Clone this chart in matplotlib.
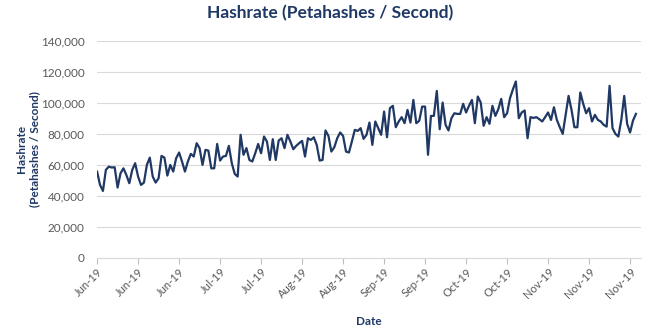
import numpy as np
import pandas as pd
import matplotlib
matplotlib.use("Agg")
import matplotlib.pyplot as plt
import matplotlib.dates as mdates
from matplotlib.ticker import FuncFormatter

plt.rcParams["font.family"] = ["Lato", "DejaVu Sans"]

NAVY = "#1f3864"
TEXT = "#595959"
GRID = "#d9d9d9"

# daily network hashrate, PH/s
start_date = "2019-06-01"
hashrate = [
    55700, 47100, 43200, 56800, 58900, 58300, 58500, 45400, 54600, 57800,
    53500, 48200, 56800, 61100, 52500, 47100, 48600, 60000, 64700, 52500,
    48600, 51400, 65800, 64700, 53100, 60000, 55700, 64300, 68000, 62200,
    55700, 62200, 67100, 65400, 74000, 70800, 60000, 69700, 69200, 57800,
    57800, 73500, 62800, 65400, 65800, 72300, 61100, 54200, 52500, 79400,
    66500, 70800, 63200, 62200, 67500, 73500, 67500, 78300, 75100, 63200,
    76600, 63200, 75700, 77200,
    70800, 79400, 75100, 70100, 72300, 74000, 75500, 65400, 77200, 76100,
    77800, 72900, 62800, 63200, 82200, 78700, 68600, 71400, 77200, 80900,
    78700, 68600, 68000, 75100, 82600, 81900, 83700, 76800, 79400, 87300,
    72900, 88000, 83700, 79400, 94400, 77800, 96600, 98100, 84300, 88000,
    90800, 86900, 95500, 87300, 101900, 86900, 88400, 97600, 97600, 66500,
    91600, 91600, 107700, 83000, 100200, 85800, 82200, 90100,
    93300, 92900, 92900, 99400, 93800, 98100, 101900, 86900, 104100, 100200,
    85200, 90800, 86500, 98100, 91600, 95900, 102600, 90800, 93300, 103000,
    108800, 113800, 90100, 93800, 95100, 77200, 90800, 90300, 90800, 89500,
    88000, 90800, 93800, 89000, 97200, 89000, 84300, 80000, 92300, 104500,
    95500, 84300, 84300, 106700, 99400, 93300, 96600, 88000, 92300, 89000,
    88000, 85800, 84700, 111000, 83700, 80000, 78300, 89000, 104500, 86500,
    80900, 88600, 92900,
]
dates = pd.date_range(start_date, periods=len(hashrate), freq="D")
tick_dates = pd.date_range(start_date, periods=14, freq="14D")

fig = plt.figure(figsize=(6.56, 3.32), dpi=100)
ax = fig.add_axes([0.148, 0.223, 0.829, 0.654])

ax.plot(dates, hashrate, color=NAVY, lw=1.6, solid_joinstyle="round")

ax.set_ylim(0, 140000)
ax.set_yticks(np.arange(0, 140001, 20000))
ax.yaxis.set_major_formatter(FuncFormatter(lambda v, _: f"{v:,.0f}"))
ax.set_xlim(dates[0], dates[0] + pd.Timedelta(days=185.7))
ax.set_xticks(tick_dates)
ax.xaxis.set_major_formatter(mdates.DateFormatter("%b-%y"))

ax.grid(axis="y", color=GRID, lw=0.8)
ax.set_axisbelow(True)
for s in ("top", "right", "left"):
    ax.spines[s].set_visible(False)
ax.spines["bottom"].set_color(GRID)
ax.spines["bottom"].set_linewidth(0.8)
ax.tick_params(axis="y", length=0, pad=9, labelsize=8.5, labelcolor=TEXT)
ax.tick_params(axis="x", length=4, color="#bfbfbf", labelsize=8,
               labelcolor=TEXT, pad=2)
for lbl in ax.get_xticklabels():
    lbl.set_rotation(45)
    lbl.set_ha("right")
    lbl.set_rotation_mode("anchor")

fig.suptitle("Hashrate (Petahashes / Second)", x=0.503, y=0.985,
             fontsize=12.5, fontweight="bold", color=NAVY)
ax.set_xlabel("Date", fontsize=8.5, fontweight="bold", color=NAVY)
ax.xaxis.set_label_coords(0.5, -0.265)
ax.set_ylabel("Hashrate\n(Petahashes / Second)", fontsize=8.5,
              fontweight="bold", color=NAVY)
ax.yaxis.set_label_coords(-0.105, 0.5)

fig.savefig("out.png", dpi=100)
